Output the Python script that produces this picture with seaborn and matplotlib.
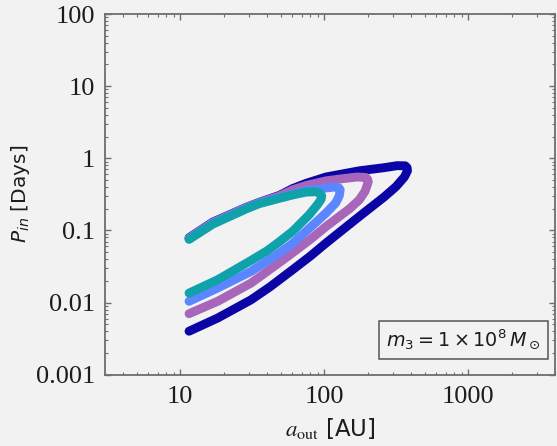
import numpy as np
import pandas as pd
import matplotlib
matplotlib.use("Agg")
import matplotlib.pyplot as plt
import seaborn as sns

# --- DATA ---
# each curve: lower branch from the left end up to the tip, then back along the upper branch
a_dark = [11.5, 18.2, 31, 42, 60.3, 80, 102.8, 175, 260, 315, 360, 378, 376, 365, 321,
          260, 175, 103, 75, 60.3, 48.7, 35.4, 28.6, 16.8, 11.5]
p_dark = [0.0040, 0.0061, 0.0109, 0.0165, 0.0285, 0.044, 0.0667, 0.156, 0.29, 0.405, 0.55, 0.67, 0.74, 0.785, 0.79,
          0.74, 0.67, 0.55, 0.45, 0.38, 0.305, 0.245, 0.208, 0.13, 0.079]

a_purple = [11.5, 18.2, 31, 50, 60.3, 80, 102.8, 150, 175, 192, 202, 200, 195, 170,
            133, 103, 75, 60.3, 48.7, 35.4, 28.6, 16.8, 11.5]
p_purple = [0.0070, 0.0104, 0.0186, 0.0371, 0.049, 0.075, 0.113, 0.20, 0.265, 0.35, 0.47, 0.51, 0.54, 0.55,
            0.52, 0.486, 0.42, 0.365, 0.30, 0.243, 0.207, 0.128, 0.078]

a_lblue = [11.5, 18.2, 31, 48.7, 60.3, 80, 102.8, 120, 127, 129, 126, 120, 100,
           78.6, 60.3, 48.7, 35.4, 28.6, 16.8, 11.5]
p_lblue = [0.0104, 0.0159, 0.027, 0.0485, 0.066, 0.11, 0.174, 0.24, 0.30, 0.365, 0.39, 0.40, 0.385,
           0.359, 0.32, 0.285, 0.24, 0.203, 0.126, 0.077]

a_teal = [11.5, 18.2, 31, 40, 47.4, 60.3, 78.6, 90, 95, 96, 94, 87, 75, 60.3,
          48.7, 35.4, 28.6, 16.8, 11.5]
p_teal = [0.0135, 0.0207, 0.0383, 0.052, 0.0667, 0.097, 0.165, 0.23, 0.27, 0.30, 0.325, 0.343, 0.34, 0.31,
          0.278, 0.235, 0.198, 0.122, 0.075]

curve_names = ["c1", "c2", "c3", "c4"]
curve_colors = ["#0c05a6", "#a866ba", "#5c86ff", "#0fa2aa"]

x_ticks = [10, 100, 1000]
x_ticklabels = ["10", "100", "1000"]
y_ticks = [0.001, 0.01, 0.1, 1, 10, 100]
y_ticklabels = ["0.001", "0.01", "0.1", "1", "10", "100"]

# --- STYLE ---
sns.set_theme(style="ticks")
plt.rcParams["font.family"] = ["DejaVu Sans"]
plt.rcParams["mathtext.fontset"] = "dejavusans"

bg = "#f2f2f2"
spine_col = "#6e6e6e"
text_col = "#1c1c1c"

frames = []
for name, a, p in zip(curve_names, [a_dark, a_purple, a_lblue, a_teal],
                      [p_dark, p_purple, p_lblue, p_teal]):
    frames.append(pd.DataFrame({"a_out": a, "P_in": p, "curve": name}))
df = pd.concat(frames, ignore_index=True)

fig, ax = plt.subplots(figsize=(5.57, 4.46), dpi=100)
fig.patch.set_facecolor(bg)
ax.set_facecolor(bg)
fig.subplots_adjust(left=0.1885, right=0.9964, bottom=0.160, top=0.9686)

sns.lineplot(data=df, x="a_out", y="P_in", hue="curve", hue_order=curve_names,
             palette=dict(zip(curve_names, curve_colors)), sort=False, estimator=None,
             linewidth=6.4, solid_capstyle="round", solid_joinstyle="round",
             legend=False, ax=ax)

ax.set_xscale("log")
ax.set_yscale("log")
ax.set_xlim(3, 4000)
ax.set_ylim(0.001, 100)

ax.set_xticks(x_ticks)
ax.set_xticklabels(x_ticklabels, fontfamily="Liberation Serif", fontsize=19, color=text_col)
ax.set_yticks(y_ticks)
ax.set_yticklabels(y_ticklabels, fontfamily="Liberation Serif", fontsize=19, color=text_col)

ax.tick_params(which="both", direction="in", top=True, right=True, color=spine_col)
ax.tick_params(which="major", length=4, width=1, pad=7)
ax.tick_params(which="minor", length=2.5, width=0.8)
ax.tick_params(axis="x", which="major", pad=8)

for s in ax.spines.values():
    s.set_color(spine_col)
    s.set_linewidth(1.3)
    s.set_visible(True)

ax.set_xlabel(r"$a_{\rm out}$ [AU]", fontsize=16.5, math_fontfamily="stix", labelpad=6, color=text_col)
ax.set_ylabel(r"$P_{in}$ [Days]", fontsize=14.5, labelpad=3, color=text_col)

ax.text(0.797, 0.096, r"$m_3 = 1\times10^8\,M_\odot$", transform=ax.transAxes,
        ha="center", va="center", fontsize=13.8, color=text_col,
        bbox=dict(boxstyle="square,pad=0.38", fc="none", ec="#555555", lw=1.1))

fig.savefig("out.png", dpi=100, facecolor=bg)
